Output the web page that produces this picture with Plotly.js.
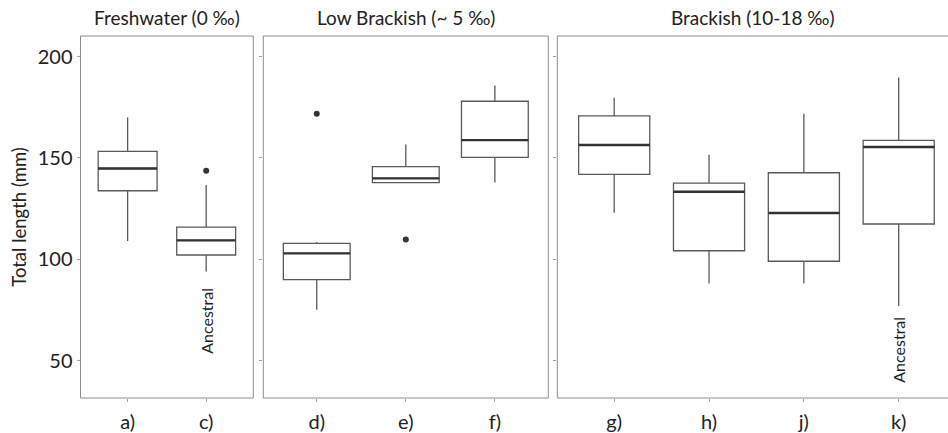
<!DOCTYPE html>
<html>
<head>
<meta charset="utf-8">
<script src="https://cdn.plot.ly/plotly-3.0.1.min.js"></script>
<style>html,body{margin:0;padding:0;background:#fff;}#chart{width:948px;height:433px;}</style>
</head>
<body>
<div id="chart"></div>
<script>
// ---- data ----
const panelTitles = ['Freshwater (0 ‰)', 'Low Brackish (~ 5 ‰)', 'Brackish (10-18 ‰)'];

const cats1 = ['a)', 'c)'];
const lower1 = [109.0, 93.9];
const q1_1 = [133.8, 102.1];
const med1 = [144.8, 109.3];
const q3_1 = [153.2, 115.9];
const upper1 = [170.0, 136.6];

const cats2 = ['d)', 'e)', 'f)'];
const lower2 = [75.1, 137.8, 137.9];
const q1_2 = [89.9, 137.8, 150.3];
const med2 = [102.9, 139.9, 158.8];
const q3_2 = [107.8, 145.7, 178.0];
const upper2 = [108.5, 156.7, 185.8];

const cats3 = ['g)', 'h)', 'j)', 'k)'];
const lower3 = [123.0, 88.0, 88.0, 76.9];
const q1_3 = [141.9, 104.2, 99.0, 117.4];
const med3 = [156.4, 133.3, 122.8, 155.4];
const q3_3 = [170.8, 137.6, 142.7, 158.7];
const upper3 = [179.7, 151.6, 171.8, 189.7];

const outCats1 = ['c)'];
const outVals1 = [143.7];
const outCats2 = ['d)', 'e)'];
const outVals2 = [171.8, 109.8];

const yTicks = [50, 100, 150, 200];
const ancestralCats = ['c)', 'k)'];
const ancestralY = [69.7, 55.2];

// ---- styling ----
const FONT = 'Lato, "Open Sans", sans-serif';
const boxColor = '#5a5a5a';
const medColor = '#333333';
const borderColor = '#8e8e8e';

function boxTrace(cats, lo, q1, med, q3, hi, xa, ya) {
  return {
    type: 'box', x: cats, q1: q1, median: med, q3: q3,
    lowerfence: lo, upperfence: hi, boxpoints: false,
    xaxis: xa, yaxis: ya, width: 0.75, whiskerwidth: 0,
    line: {color: boxColor, width: 1.3}, fillcolor: '#ffffff',
    hoverinfo: 'skip', showlegend: false
  };
}
function medTrace(cats, med, xa, ya) {
  return {
    type: 'box', x: cats, q1: med, median: med, q3: med,
    lowerfence: med, upperfence: med, boxpoints: false,
    xaxis: xa, yaxis: ya, width: 0.75, whiskerwidth: 0,
    line: {color: medColor, width: 2.4}, fillcolor: 'rgba(0,0,0,0)',
    hoverinfo: 'skip', showlegend: false
  };
}
function outTrace(cats, vals, xa, ya) {
  return {
    type: 'scatter', mode: 'markers', x: cats, y: vals, xaxis: xa, yaxis: ya,
    marker: {color: '#333333', size: 6}, hoverinfo: 'skip', showlegend: false
  };
}

const data = [
  boxTrace(cats1, lower1, q1_1, med1, q3_1, upper1, 'x', 'y'),
  medTrace(cats1, med1, 'x', 'y'),
  outTrace(outCats1, outVals1, 'x', 'y'),
  boxTrace(cats2, lower2, q1_2, med2, q3_2, upper2, 'x2', 'y2'),
  medTrace(cats2, med2, 'x2', 'y2'),
  outTrace(outCats2, outVals2, 'x2', 'y2'),
  boxTrace(cats3, lower3, q1_3, med3, q3_3, upper3, 'x3', 'y3'),
  medTrace(cats3, med3, 'x3', 'y3')
];

const W = 948, H = 433;
const yDom = [1 - 398 / H, 1 - 36 / H];
const yRange = [31.5, 210.2];

function xAxis(cats, dom, range, anchor) {
  return {
    domain: dom, anchor: anchor, type: 'category', categoryorder: 'array', categoryarray: cats,
    range: range, showgrid: false, zeroline: false, showline: false,
    ticks: 'outside', ticklen: 3, tickcolor: '#a0a0a0', tickwidth: 1,
    ticklabelstandoff: 3,
    tickfont: {family: FONT, size: 20, color: '#222222'}, fixedrange: true
  };
}
function yAxis(anchor, labels) {
  return {
    domain: yDom, anchor: anchor, range: yRange, tickmode: 'array', tickvals: yTicks,
    showgrid: false, zeroline: false, showline: false,
    ticks: 'outside', ticklen: 3, tickcolor: '#a0a0a0', tickwidth: 1,
    showticklabels: labels,
    tickfont: {family: FONT, size: 20, color: '#222222'}, fixedrange: true
  };
}

const layout = {
  width: W, height: H,
  margin: {l: 0, r: 0, t: 0, b: 0},
  paper_bgcolor: '#ffffff', plot_bgcolor: '#ffffff',
  showlegend: false,
  xaxis: xAxis(cats1, [80.5 / W, 253.3 / W], [-0.6, 1.6], 'y'),
  xaxis2: xAxis(cats2, [263.3 / W, 548.3 / W], [-0.6, 2.6], 'y2'),
  xaxis3: xAxis(cats3, [557.3 / W, 1], [-0.6, 3.52], 'y3'),
  yaxis: Object.assign(yAxis('x', true), {
    title: {text: 'Total length (mm)', font: {family: FONT, size: 18.5, color: '#222222'}, standoff: 6}
  }),
  yaxis2: yAxis('x2', false),
  yaxis3: yAxis('x3', false),
  shapes: [
    {type: 'rect', xref: 'x domain', yref: 'y domain', x0: 0, x1: 1, y0: 0, y1: 1, line: {color: borderColor, width: 1}},
    {type: 'rect', xref: 'x2 domain', yref: 'y2 domain', x0: 0, x1: 1, y0: 0, y1: 1, line: {color: borderColor, width: 1}},
    {type: 'rect', xref: 'x3 domain', yref: 'y3 domain', x0: 0, x1: 1.05, y0: 0, y1: 1, line: {color: borderColor, width: 1}}
  ],
  annotations: [
    {text: panelTitles[0], xref: 'x domain', yref: 'paper', x: 0.5, y: 1 - 18 / H, showarrow: false, xanchor: 'center', yanchor: 'middle', font: {family: FONT, size: 19, color: '#222222'}},
    {text: panelTitles[1], xref: 'x2 domain', yref: 'paper', x: 0.5, y: 1 - 18 / H, showarrow: false, xanchor: 'center', yanchor: 'middle', font: {family: FONT, size: 19, color: '#222222'}},
    {text: panelTitles[2], xref: 'x3 domain', yref: 'paper', x: 0.5, y: 1 - 18 / H, showarrow: false, xanchor: 'center', yanchor: 'middle', font: {family: FONT, size: 19, color: '#222222'}},
    {text: 'Ancestral', xref: 'x', yref: 'y', x: ancestralCats[0], y: ancestralY[0], textangle: -90, showarrow: false, xanchor: 'center', yanchor: 'middle', font: {family: FONT, size: 16, color: '#222222'}},
    {text: 'Ancestral', xref: 'x3', yref: 'y3', x: ancestralCats[1], y: ancestralY[1], textangle: -90, showarrow: false, xanchor: 'center', yanchor: 'middle', font: {family: FONT, size: 16, color: '#222222'}}
  ]
};

Plotly.newPlot('chart', data, layout, {displayModeBar: false, staticPlot: true});
</script>
</body>
</html>
